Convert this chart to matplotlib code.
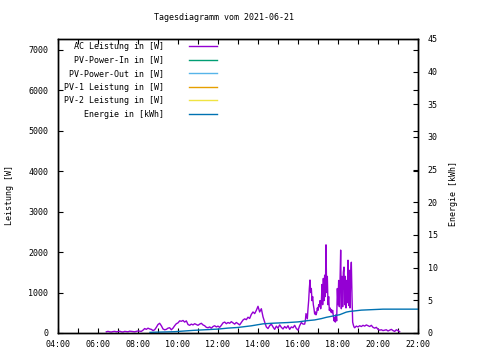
import matplotlib
matplotlib.use("Agg")
import matplotlib.pyplot as plt
import numpy as np
from matplotlib.ticker import MultipleLocator, FuncFormatter

plt.rcParams['font.family'] = ['DejaVu Sans Mono']
plt.rcParams['font.size'] = 6

title = "Tagesdiagramm vom 2021-06-21"
ylabel_left = "Leistung [W]"
ylabel_right = "Energie [kWh]"
series_labels = ["AC Leistung in [W]", "PV-Power-In in [W]", "PV-Power-Out in [W]",
                 "PV-1 Leistung in [W]", "PV-2 Leistung in [W]", "Energie in [kWh]"]
series_colors = ["#9400d3", "#009e73", "#56b4e9", "#e69f00", "#f0e442", "#0072b2"]

# AC power, segment 1: from 06:25 every 5 minutes
ac_seg1_start, ac_seg1_step = "06:25", 5
ac_seg1_w = [30, 40, 30, 25, 35, 40, 30, 35, 45, 30, 25, 40, 35, 30, 45, 40, 35, 30, 40, 50, 45, 40,
             70, 110, 90, 120, 100, 90, 60, 80, 140, 210, 240, 180, 100, 80, 90, 120, 130, 80, 120, 180, 230,
             250, 300, 290, 310, 270, 300, 210, 190, 220, 200, 230, 210, 190, 220, 240, 200, 180, 140, 130, 150, 120, 160, 180, 150,
             170, 140, 190, 250, 270, 230, 260, 240, 280, 250, 220, 260, 230, 200, 260, 320, 350, 330, 390, 360, 460, 520, 480, 560,
             660, 520, 600, 400, 270, 150, 110, 180, 220, 150, 90, 170, 120, 200, 140, 100, 160, 120, 180, 90, 150, 130, 190, 110,
             70, 180, 260, 220]
# AC power, segment 2: from 16:20 every 2 minutes
ac_seg2_start, ac_seg2_step = "16:20", 2
ac_seg2_w = [220, 300, 480, 420, 350, 600, 800, 1100, 1310, 1000, 1100, 800, 900, 700, 600, 470, 520, 450, 500, 620,
             560, 700, 650, 800, 600, 750, 1200, 700, 1350, 800, 1430, 900, 2180, 1000, 1400, 700, 900, 560, 620, 520,
             580, 500, 560, 420, 300, 380, 270, 450, 300, 1100,
             700, 1300, 650, 1250, 2050, 600, 1400, 650, 1500, 1630, 700, 1400, 620, 1300, 750, 1800, 680, 1550, 620, 1400,
             1750, 900, 270, 200, 150]
# AC power, segment 3: from 18:50 every 5 minutes
ac_seg3_start, ac_seg3_step = "18:50", 5
ac_seg3_w = [130, 170, 150, 180, 160, 190, 170, 200, 180, 160, 190, 140, 120, 140, 90, 70, 80, 60, 70, 80,
             50, 70, 90, 60, 40, 80, 60, 30]

pv_in_w = []
pv_out_w = []
pv1_w = []
pv2_w = []

energy_times = ["08:36", "09:50", "10:45", "12:00", "12:30", "13:00", "13:40", "14:15", "14:45", "15:30",
                "16:00", "16:30", "16:50", "17:10", "17:25", "17:45", "18:05", "18:15", "18:25", "18:35",
                "19:10", "20:15", "22:00"]
energy_kwh = [0.1, 0.2, 0.4, 0.6, 0.75, 0.85, 1.1, 1.4, 1.5, 1.6,
              1.7, 1.9, 2.0, 2.2, 2.4, 2.6, 2.8, 3.0, 3.2, 3.3,
              3.5, 3.65, 3.65]


def hours(s):
    h, m = s.split(":")
    return int(h) + int(m) / 60.0


def seg_times(start, step, vals):
    return hours(start) + np.arange(len(vals)) * step / 60.0


ac_t = np.concatenate([seg_times(ac_seg1_start, ac_seg1_step, ac_seg1_w),
                       seg_times(ac_seg2_start, ac_seg2_step, ac_seg2_w),
                       seg_times(ac_seg3_start, ac_seg3_step, ac_seg3_w)])
ac_w = np.concatenate([ac_seg1_w, ac_seg2_w, ac_seg3_w])
en_t = [hours(s) for s in energy_times]

W, H = 480, 360
fig = plt.figure(figsize=(W / 100, H / 100), dpi=100)
ax = fig.add_axes([58 / W, 27 / H, 360 / W, 294 / H])
ax2 = ax.twinx()

lw = 1.0
h_ac, = ax.plot(ac_t, ac_w, color=series_colors[0], lw=lw)
h_in, = ax.plot(np.arange(len(pv_in_w)), pv_in_w, color=series_colors[1], lw=lw)
h_out, = ax.plot(np.arange(len(pv_out_w)), pv_out_w, color=series_colors[2], lw=lw)
h_p1, = ax.plot(np.arange(len(pv1_w)), pv1_w, color=series_colors[3], lw=lw)
h_p2, = ax.plot(np.arange(len(pv2_w)), pv2_w, color=series_colors[4], lw=lw)
h_en, = ax2.plot(en_t, energy_kwh, color=series_colors[5], lw=lw)

ax.set_xlim(4, 22)
ax.set_ylim(0, 7270)
ax2.set_ylim(0, 45)

ax.xaxis.set_major_locator(MultipleLocator(2))
ax.xaxis.set_minor_locator(MultipleLocator(1))
ax.xaxis.set_major_formatter(FuncFormatter(lambda v, p: "%02d:00" % int(round(v))))
ax.yaxis.set_major_locator(MultipleLocator(1000))
ax2.yaxis.set_major_locator(MultipleLocator(5))

ax.tick_params(axis='x', which='both', direction='in', length=3.5, width=0.8, top=True, pad=5)
ax.tick_params(axis='y', which='both', direction='in', length=3.5, width=0.8, right=True, pad=7)
ax2.tick_params(axis='y', direction='in', length=3.5, width=0.8, pad=7)

for a in (ax, ax2):
    for s in a.spines.values():
        s.set_linewidth(1.0)

fig.text(224 / W, 1 - 18 / H, title, ha='center', va='center')
fig.text(10 / W, 1 - 195 / H, ylabel_left, rotation=90, ha='center', va='center')
fig.text(453 / W, 1 - 194 / H, ylabel_right, rotation=90, ha='center', va='center')

handles = [h_ac, h_in, h_out, h_p1, h_p2, h_en]
n = max(len(s) for s in series_labels)
labels = [s.rjust(n) for s in series_labels]
leg = ax2.legend(handles, labels, loc='upper left', bbox_to_anchor=(6 / 360, 1 - 3 / 294),
                 frameon=False, markerfirst=False, handlelength=3.3, handletextpad=3.0,
                 labelspacing=0.55, borderpad=0, borderaxespad=0)

fig.savefig("out.png", dpi=100)
